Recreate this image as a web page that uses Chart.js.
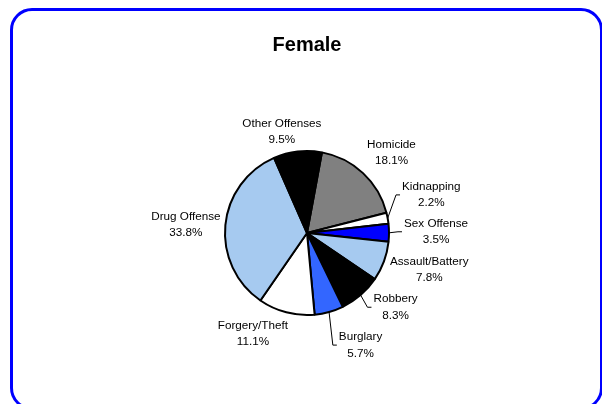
<!DOCTYPE html>
<html>
<head>
<meta charset="utf-8">
<script src="https://cdn.jsdelivr.net/npm/chart.js@4/dist/chart.umd.min.js"></script>
<style>
  html, body { margin: 0; padding: 0; background: #fff; }
  #wrap { position: relative; width: 602px; height: 404px; overflow: hidden; }
  #frame {
    position: absolute; left: 10px; top: 8px;
    width: 587px; height: 396px;
    border: 3px solid #0000ff; border-radius: 22px;
  }
  canvas { position: absolute; left: 0; top: 0; }
</style>
</head>
<body>
<div id="wrap">
  <div id="frame"></div>
  <canvas id="femaleChart" width="602" height="404"></canvas>
</div>
<script>
// 데이터
const categories = ['Homicide', 'Kidnapping', 'Sex Offense', 'Assault/Battery', 'Robbery',
    'Burglary', 'Forgery/Theft', 'Drug Offense', 'Other Offenses'];
const percents = [18.1, 2.2, 3.5, 7.8, 8.3, 5.7, 11.1, 33.8, 9.5];

const sliceColors = ['#808080', '#ffffff', '#0000ff', '#a6caf0', '#000000',
    '#3366ff', '#ffffff', '#a6caf0', '#000000'];

// label placement tweaks (Excel pushes some labels aside) + which ones get a leader line
const labelNudge = [[5, -3], [5, -19], [5, -1], [-1, 0], [14, -6], [23, 10], [-22, -2], [5, 2], [-10, 4]];
const hasLeader = [false, true, true, false, true, true, false, false, false];

const LABEL_FONT = '11.7px "Liberation Sans", Arial, sans-serif';
const LINE_GAP = 16.5;

const pieLabels = {
    id: 'pieLabels',
    afterDatasetsDraw(chart) {
        const ctx = chart.ctx;
        const arcs = chart.getDatasetMeta(0).data;
        ctx.save();
        ctx.font = LABEL_FONT;
        ctx.fillStyle = '#000';
        ctx.textAlign = 'center';
        ctx.textBaseline = 'middle';
        arcs.forEach((arc, i) => {
            const p = arc.getProps(['x', 'y', 'startAngle', 'endAngle', 'outerRadius'], true);
            const mid = (p.startAngle + p.endAngle) / 2;
            const ux = Math.cos(mid), uy = Math.sin(mid);
            const name = categories[i];
            const pct = percents[i].toFixed(1) + '%';
            const hw = Math.max(ctx.measureText(name).width, ctx.measureText(pct).width) / 2;
            const hh = 14;
            const r = p.outerRadius + 10;
            const cx = p.x + ux * r + ux * hw + labelNudge[i][0];
            const cy = p.y + uy * r + uy * hh + labelNudge[i][1];
            ctx.fillText(name, cx, cy - LINE_GAP / 2);
            ctx.fillText(pct, cx, cy + LINE_GAP / 2);

            if (hasLeader[i]) {
                const sx = p.x + ux * p.outerRadius;
                const sy = p.y + uy * p.outerRadius;
                const ex = cx - ctx.measureText(name).width / 2 - 2;
                const ey = cy;
                ctx.beginPath();
                ctx.strokeStyle = '#000';
                ctx.lineWidth = 1;
                ctx.moveTo(sx, sy);
                ctx.lineTo(ex - 4, ey);
                ctx.lineTo(ex, ey);
                ctx.stroke();
            }
        });
        ctx.restore();
    }
};

const config = {
    type: 'pie',
    data: {
        labels: categories,
        datasets: [{
            data: percents,
            backgroundColor: sliceColors,
            borderColor: '#000000',
            borderWidth: 2
        }]
    },
    options: {
        responsive: false,
        animation: false,
        rotation: 10.5,
        layout: {
            padding: { left: 224, right: 212, top: 0, bottom: 88 }
        },
        plugins: {
            legend: { display: false },
            tooltip: { enabled: false },
            title: {
                display: true,
                text: 'Female',
                color: '#000',
                font: { family: '"Liberation Sans", Arial, sans-serif', size: 20, weight: 'bold' },
                padding: { top: 33, bottom: 93 }
            }
        }
    },
    plugins: [pieLabels]
};

new Chart(document.getElementById('femaleChart').getContext('2d'), config);
</script>
</body>
</html>
